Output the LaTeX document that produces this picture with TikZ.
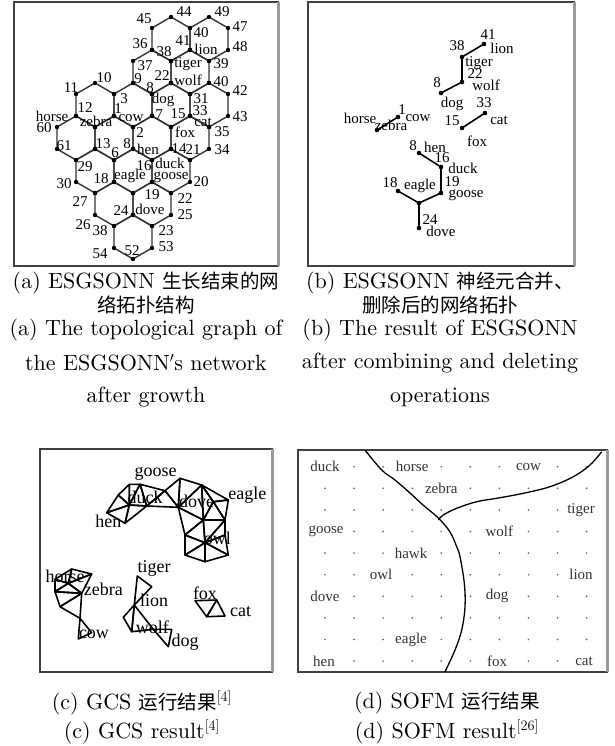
\documentclass[tikz,border=0pt]{standalone}
\usepackage{fontspec}
\newfontfamily\tnr{Liberation Serif}
\newfontfamily\cjk{Noto Sans CJK SC}
\newfontfamily\capfont{lmroman10-regular}[Extension=.otf]
\newcommand\zh[1]{{\cjk\fontsize{19.5}{19.5}\selectfont #1}}
\begin{document}
\begin{tikzpicture}[x=1pt,y=-1pt,
  hexline/.style={draw=black!80, line width=1.4pt, line join=round},
  la/.style={font=\tnr\fontsize{15}{15}\selectfont, inner sep=0pt},
  lc/.style={font=\tnr\fontsize{18}{18}\selectfont, inner sep=0pt},
  ld/.style={font=\tnr\fontsize{15}{15}\selectfont, inner sep=0.6pt, text=black!80, fill=white},
  panelframe/.style={draw=black!75, line width=1.2pt},
  rshadow/.style={draw=black!40, line width=3pt},
  bedge/.style={draw=black, line width=1.6pt},
  gcsmesh/.style={draw=black, line width=1.6pt, line join=round},
  sofmcurve/.style={draw=black, line width=1.3pt},
  captext/.style={font=\capfont\fontsize{22}{22}\selectfont, inner sep=0pt},
]
\useasboundingbox (0,0) rectangle (614,746);
\fill[white] (0,0) rectangle (614,746);

% ---------------- frames
\draw[panelframe] (14,2) rectangle (278,266);
\draw[rshadow] (278,2) -- (278,266);
\draw[panelframe] (308,2) rectangle (574,266);
\draw[rshadow] (574,2) -- (574,266);
\draw[panelframe] (40,449) rectangle (272,672);
\draw[rshadow] (272,449) -- (272,672);
\draw[panelframe] (298,450) rectangle (607,672);
\draw[rshadow] (607,450) -- (607,672);

% ---------------- panel (a): honeycomb
\foreach \cx/\cy in {171/39,209/39,152/72,190/72,95/105,133/105,171/105,209/105,76/138,114/138,152/138,190/138,95/171,133/171,171/171,114/204,152/204,133/237}{
  \draw[hexline] ({\cx},{\cy-22}) -- ({\cx+19},{\cy-11}) -- ({\cx+19},{\cy+11}) -- ({\cx},{\cy+22}) -- ({\cx-19},{\cy+11}) -- ({\cx-19},{\cy-11}) -- cycle;
}
\foreach \cx/\cy in {171/39,209/39,152/72,190/72,95/105,133/105,171/105,209/105,76/138,114/138,152/138,190/138,95/171,133/171,171/171,114/204,152/204,133/237}{
  \foreach \dx/\dy in {0/-22,19/-11,19/11,0/22,-19/11,-19/-11}{
    \fill ({\cx+\dx},{\cy+\dy}) circle (2.2pt);
  }
}
\node[la] (a45) at (144,19) {45};
\node[la] (a44) at (184,12) {44};
\node[la] (a49) at (222,12) {49};
\node[la] (a40) at (201,33) {40};
\node[la] (a47) at (240,27) {47};
\node[la] (a36) at (140,44) {36};
\node[la] (a41) at (183,41) {41};
\node[la] (alion) at (206,49) {lion};
\node[la] (a48) at (240,47) {48};
\node[la] (a38) at (164,52) {38};
\node[la] (atiger) at (188,64) {tiger};
\node[la] (a39) at (221,64) {39};
\node[la] (a37) at (145,66) {37};
\node[la] (a22) at (162,76) {22};
\node[la] (awolf) at (188,80) {wolf};
\node[la] (a40b) at (221,82) {40};
\node[la] (a9) at (138,79) {9};
\node[la] (a10) at (104,78) {10};
\node[la] (a8) at (150,88) {8};
\node[la] (adog) at (163,100) {dog};
\node[la] (a3) at (124,99) {3};
\node[la] (a11) at (71,88) {11};
\node[la] (a31) at (201,99) {31};
\node[la] (a42) at (240,91) {42};
\node[la] (ahorse) at (52,116) {horse};
\node[la] (a12) at (85,108) {12};
\node[la] (azebra) at (96,121) {zebra};
\node[la] (a1) at (118,109) {1};
\node[la] (acow) at (131,118) {cow};
\node[la] (a7) at (159,115) {7};
\node[la] (a15) at (178,114) {15};
\node[la] (a33) at (200,111) {33};
\node[la] (acat) at (203,122) {cat};
\node[la] (a43) at (240,117) {43};
\node[la] (a60) at (44,128) {60};
\node[la] (a2) at (140,133) {2};
\node[la] (a35) at (222,132) {35};
\node[la] (afox) at (185,132) {fox};
\node[la] (a61) at (64,146) {61};
\node[la] (a13) at (103,144) {13};
\node[la] (a8b) at (127,144) {8};
\node[la] (ahen) at (148,149) {hen};
\node[la] (a14) at (179,149) {14};
\node[la] (a21) at (193,150) {21};
\node[la] (a34) at (222,150) {34};
\node[la] (a29) at (85,167) {29};
\node[la] (a6) at (115,153) {6};
\node[la] (a16) at (144,166) {16};
\node[la] (aduck) at (170,163) {duck};
\node[la] (a30) at (64,184) {30};
\node[la] (a18) at (101,179) {18};
\node[la] (aeagle) at (130,176) {eagle};
\node[la] (agoose) at (171,177) {goose};
\node[la] (a19) at (152,195) {19};
\node[la] (a20) at (201,182) {20};
\node[la] (a27) at (80,202) {27};
\node[la] (a22b) at (185,199) {22};
\node[la] (a24) at (121,211) {24};
\node[la] (adove) at (150,209) {dove};
\node[la] (a26) at (83,225) {26};
\node[la] (a25) at (185,215) {25};
\node[la] (a38b) at (100,231) {38};
\node[la] (a23) at (166,231) {23};
\node[la] (a54) at (100,254) {54};
\node[la] (a53) at (166,247) {53};
\node[la] (a52) at (132,251) {52};

% ---------------- panel (b)
\coordinate (b41) at (484,44);
\coordinate (b38) at (462,57);
\coordinate (b22) at (462,82);
\coordinate (b8) at (441,93);
\coordinate (b33) at (485,113);
\coordinate (b15) at (462,128);
\coordinate (b1) at (398,117);
\coordinate (b12) at (377,130);
\coordinate (bh) at (419,153);
\coordinate (b16) at (441,167);
\coordinate (b19) at (441,193);
\coordinate (b18) at (398,191);
\coordinate (bj) at (419,203);
\coordinate (b24) at (419,228);
\draw[bedge] (b41) -- (b38) -- (b22) -- (b8);
\draw[bedge] (b33) -- (b15);
\draw[bedge] (b1) -- (b12);
\draw[bedge] (bh) -- (b16) -- (b19) -- (bj) -- (b24);
\draw[bedge] (b18) -- (bj);
\foreach \p in {b41,b38,b22,b8,b33,b15,b1,b12,bh,b16,b19,b18,bj,b24}{\fill (\p) circle (2.3pt);}
\node[la] (bl41) at (488,35) {41};
\node[la] (bllion) at (502,48) {lion};
\node[la] (bl38) at (457,46) {38};
\node[la] (bltiger) at (479,63) {tiger};
\node[la] (bl22) at (475,74) {22};
\node[la] (blwolf) at (486,85) {wolf};
\node[la] (bl8) at (437,83) {8};
\node[la] (bldog) at (452,104) {dog};
\node[la] (bl33) at (484,103) {33};
\node[la] (blcat) at (499,120) {cat};
\node[la] (bl15) at (452,121) {15};
\node[la] (blfox) at (477,141) {fox};
\node[la] (bl1) at (402,110) {1};
\node[la] (blcow) at (418,118) {cow};
\node[la] (blhorse) at (360,118) {horse};
\node[la] (blzebra) at (391,125) {zebra};
\node[la] (bl8h) at (413,146) {8};
\node[la] (blhen) at (435,147) {hen};
\node[la] (bl16) at (442,158) {16};
\node[la] (blduck) at (463,168) {duck};
\node[la] (bl19) at (452,182) {19};
\node[la] (blgoose) at (466,195) {goose};
\node[la] (bl18) at (390,183) {18};
\node[la] (bleagle) at (420,186) {eagle};
\node[la] (bl24) at (430,220) {24};
\node[la] (bldove) at (441,231) {dove};

% ---------------- panel (c): GCS
\coordinate (ca) at (106.7,512.7);
\coordinate (cb) at (118.3,495);
\coordinate (cc) at (129.3,484.3);
\coordinate (cd) at (140,484.3);
\coordinate (ce) at (125,523.3);
\coordinate (cf) at (129.3,505);
\coordinate (cg) at (146.7,506);
\coordinate (ch) at (165,490.7);
\coordinate (ci) at (180,478.3);
\coordinate (cj) at (178.3,507.3);
\coordinate (ck) at (201.7,485);
\coordinate (cl) at (203.3,520);
\coordinate (cm) at (228.3,500);
\coordinate (cn) at (213.3,501.7);
\coordinate (co) at (225,520);
\coordinate (cp) at (185,535);
\coordinate (cq) at (205,542.7);
\coordinate (cr) at (225,535);
\coordinate (cs) at (185,555);
\coordinate (ct) at (205,561.7);
\coordinate (cu) at (228.3,555);
\foreach \u/\v/\w in {ca/cb/cf,ca/cf/ce,cb/cc/cf,cc/cd/cf,cd/cg/cf,cf/cg/ce,cd/ch/cg,cg/ch/cj,ch/ci/cj,ci/ck/cj,ck/cl/cj,ck/cn/cl,ck/cm/cn,cn/cm/co,cn/co/cl,cj/cl/cp,cl/cq/cp,cl/co/cq,co/cr/cq,cp/cq/cs,cq/ct/cs,cq/cr/cu,cq/cu/ct}{
  \draw[gcsmesh] (\u) -- (\v) -- (\w) -- cycle;
}
% horse / zebra / cow
\coordinate (w1) at (55,579.3);
\coordinate (w2) at (71.7,569);
\coordinate (w3) at (91.7,574);
\coordinate (w4) at (81.7,593.3);
\coordinate (w5) at (55,591.7);
\coordinate (w6) at (60,606.7);
\coordinate (w7) at (80,618.3);
\coordinate (w8) at (78.3,639);
\coordinate (w9) at (91.7,632.7);
\coordinate (w10) at (68.3,583.3);
\foreach \u/\v/\w in {w1/w2/w10,w2/w3/w10,w3/w4/w10,w1/w10/w5,w10/w4/w5,w5/w4/w6,w6/w4/w7,w7/w9/w8}{
  \draw[gcsmesh] (\u) -- (\v) -- (\w) -- cycle;
}
% tiger / lion / wolf / dog
\coordinate (t1) at (137.3,576);
\coordinate (t2) at (151.7,586.7);
\coordinate (t3) at (134.3,605);
\coordinate (t4) at (123.3,617.3);
\coordinate (t5) at (131.7,631.7);
\coordinate (t6) at (153.3,629.3);
\coordinate (t7) at (171.7,629.3);
\coordinate (t8) at (168.3,646.7);
\foreach \u/\v/\w in {t1/t2/t3,t3/t4/t5,t3/t5/t6,t6/t7/t8}{
  \draw[gcsmesh] (\u) -- (\v) -- (\w) -- cycle;
}
% fox / cat
\coordinate (f1) at (195,600.7);
\coordinate (f2) at (216.7,600);
\coordinate (f3) at (206.7,616.7);
\coordinate (f4) at (225,616);
\foreach \u/\v/\w in {f1/f2/f3,f2/f4/f3}{
  \draw[gcsmesh] (\u) -- (\v) -- (\w) -- cycle;
}
\node[lc] (cgoose) at (155.7,474) {goose};
\node[lc] (cduck) at (145,497) {duck};
\node[lc] (cdove) at (196.7,501.7) {dove};
\node[lc] (ceagle) at (247.3,495) {eagle};
\node[lc] (chen) at (108.3,521.7) {hen};
\node[lc] (cowl) at (217.3,538.3) {owl};
\node[lc] (chorse) at (65,576.7) {horse};
\node[lc] (czebra) at (103.3,589) {zebra};
\node[lc] (ccow) at (94,634.3) {cow};
\node[lc] (ctiger) at (154,568.3) {tiger};
\node[lc] (clion) at (154,600.7) {lion};
\node[lc] (cwolf) at (152.3,627.3) {wolf};
\node[lc] (cdog) at (185,641.7) {dog};
\node[lc] (cfox) at (205,593.3) {fox};
\node[lc] (ccat) at (240.7,611.7) {cat};

% ---------------- panel (d): SOFM
\foreach \r in {0,...,9}{
  \foreach \c in {0,...,9}{
    \fill[black!60] ({325+29.07*\c},{466.7+21.6*\r}) circle (0.95pt);
  }
}
\node[ld] (dduck) at (325,466.7) {duck};
\node[ld] (dhorse) at (412.2,466.7) {horse};
\node[ld] (dcow) at (528.5,466.7) {cow};
\node[ld] (dzebra) at (441.3,488.3) {zebra};
\node[ld] (dtiger) at (581,509.9) {tiger};
\node[ld] (dgoose) at (326,531.5) {goose};
\node[ld] (dwolf) at (499.4,531.5) {wolf};
\node[ld] (dhawk) at (411,553.1) {hawk};
\node[ld] (dowl) at (381,574.7) {owl};
\node[ld] (dlion) at (581,574.7) {lion};
\node[ld] (ddove) at (325,596.3) {dove};
\node[ld] (ddog) at (497,596.3) {dog};
\node[ld] (deagle) at (411,639.5) {eagle};
\node[ld] (dhen) at (324,661.1) {hen};
\node[ld] (dfox) at (497,661.1) {fox};
\node[ld] (dcat) at (584,661.1) {cat};
\draw[sofmcurve] plot[smooth, tension=0.6] coordinates {(365,450) (381.7,470) (395,480) (410,493) (423,505) (438.3,518) (450,532) (456.7,546.7) (460,556.7) (464.3,583.3) (465,606.7) (461.7,630) (455,650) (445,671.7)};
\draw[sofmcurve] plot[smooth, tension=0.6] coordinates {(438.3,520) (443.3,515) (456.7,508.3) (476.7,501.7) (496.7,498.3) (523.3,493.3) (550,486.7) (573.3,476.7) (590,465) (601.7,451.7)};

% ---------------- captions
\node[captext] (ca1) at (146,283) {(a) ESGSONN \zh{生长结束的网}};
\node[captext] (ca2) at (146,305) {\zh{络拓扑结构}};
\node[captext] (ca3) at (146,330) {(a) The topological graph of};
\node[captext] (ca4) at (146,363) {the ESGSONN$'$s network};
\node[captext] (ca5) at (146,397) {after growth};
\node[captext] (cb1) at (440,283) {(b) ESGSONN \zh{神经元合并、}};
\node[captext] (cb2) at (440,305) {\zh{删除后的网络拓扑}};
\node[captext] (cb3) at (440,330) {(b) The result of ESGSONN};
\node[captext] (cb4) at (440,363) {after combining and deleting};
\node[captext] (cb5) at (440,397) {operations};
\node[captext] (cc1) at (142,703) {(c) GCS \zh{运行结果}$^{[4]}$};
\node[captext] (cc2) at (142,732) {(c) GCS result$^{[4]}$};
\node[captext] (cd1) at (447,703) {(d) SOFM \zh{运行结果}};
\node[captext] (cd2) at (447,732) {(d) SOFM result$^{[26]}$};
\end{tikzpicture}
\end{document}
